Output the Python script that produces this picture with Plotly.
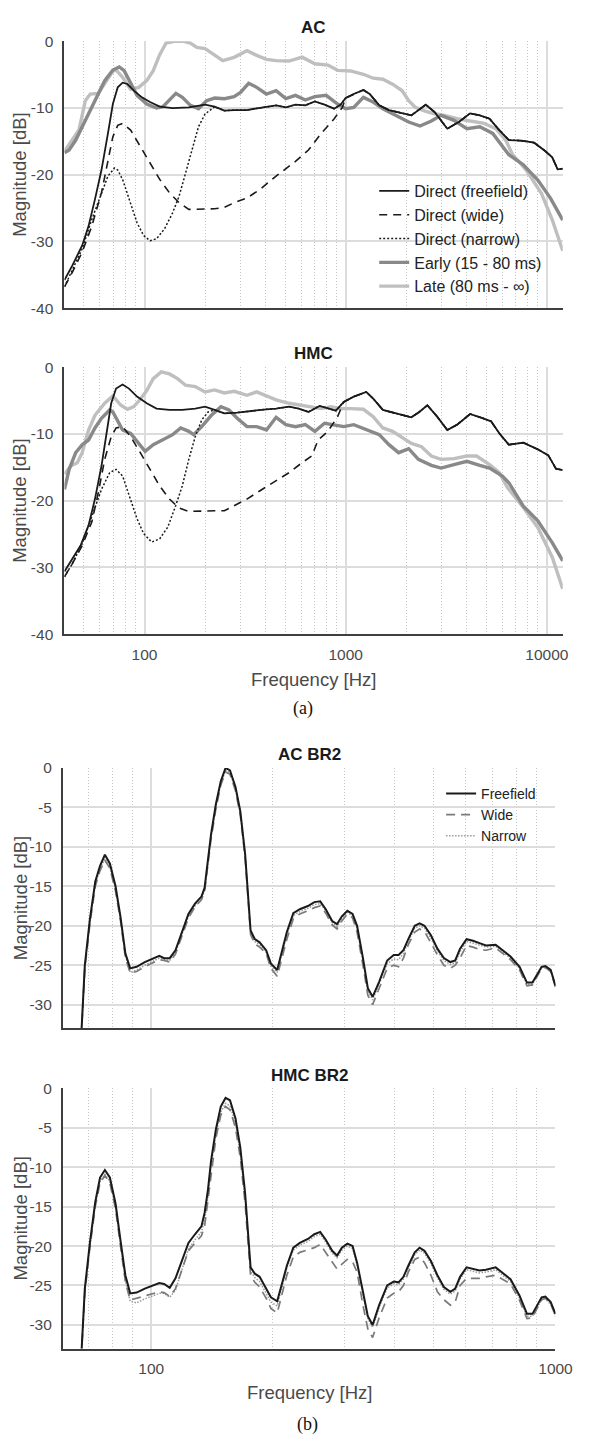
import math
import plotly.graph_objects as go

# ---------------- (a) broadband responses, AC ----------------
ac_ff_f = [40, 43.8, 49.0, 52.7, 56.7, 61.1, 65.8, 69.6, 73.6, 77.8,
           82.2, 88.5, 97.1, 106.5, 119, 138, 166, 200, 223, 249.5,
           279, 323, 389, 451, 504, 563, 630, 703, 785, 876,
           943, 1000, 1097, 1225, 1316, 1469, 1641, 1833, 2121, 2502,
           2768, 3200, 3650, 4156, 4643, 5190, 5800, 6474, 7480, 8650,
           9770, 10640, 11320, 12000]
ac_ff_db = [-35.8, -33.6, -30.6, -27.7, -23.7, -19.3, -13.8, -9.4, -6.9, -6.2,
            -6.4, -7.4, -8.4, -9.1, -9.8, -10.0, -9.9, -9.5, -9.8, -10.4,
            -10.3, -10.3, -9.9, -9.6, -9.9, -9.5, -9.6, -9.0, -9.5, -10.1,
            -9.5, -8.5, -7.9, -7.3, -7.9, -9.6, -10.3, -10.6, -11.1, -9.5,
            -10.6, -13.1, -12.1, -10.8, -11.1, -11.6, -13.3, -14.8, -14.9, -15.2,
            -16.4, -17.4, -19.2, -19.1]

ac_wide_f = [40, 43.8, 49.0, 54.7, 61.1, 65.8, 69.6, 73.6, 77.8, 85.3,
             95.3, 106.5, 119, 133, 148.6, 166, 192.5, 223, 249.5, 279,
             323, 375, 451, 563, 653, 756, 877, 963]
ac_wide_db = [-36.8, -34.6, -31.6, -27.7, -22.7, -17.8, -14.3, -12.6, -12.3, -13.3,
              -15.8, -18.3, -20.7, -22.7, -24.2, -25.2, -25.1, -25.1, -24.9, -24.2,
              -23.5, -22.2, -20.2, -18.0, -16.3, -13.8, -11.6, -9.9]

ac_narrow_f = [40, 43.8, 49.0, 54.7, 61.1, 65.8, 70.9, 73.6, 77.8, 85.3,
               91.8, 98.9, 106.5, 114.7, 125.8, 138, 148.6, 160, 172.4, 185.5,
               200, 215]
ac_narrow_db = [-36.8, -34.3, -31.1, -26.7, -22.7, -20.2, -19.0, -19.3, -20.7, -24.2,
                -27.2, -29.1, -29.9, -29.6, -28.1, -25.7, -23.2, -19.75, -16.3, -12.8,
                -10.9, -10.1]

ac_early_f = [40, 42.2, 45.5, 50.8, 56.8, 63.4, 69.6, 74.9, 79.2, 85.3,
              91.8, 102.6, 114.7, 123.5, 133.0, 143.2, 154.2, 169.1, 185.5, 203.5,
              223.3, 249.5, 278.7, 300.1, 329.2, 361.2, 403.6, 451, 504, 563,
              630, 703, 800, 912, 1000, 1097, 1225, 1370, 1531, 1775,
              2057, 2342, 2667, 2980, 3454, 4005, 4643, 5383, 6013, 6474,
              7640, 9020, 10420, 12000]
ac_early_db = [-16.7, -16.3, -14.8, -11.9, -8.9, -5.9, -4.3, -3.85, -4.4, -6.4,
               -8.1, -9.4, -10.0, -9.8, -8.8, -7.8, -8.4, -9.6, -10.1, -8.9,
               -8.5, -8.6, -8.3, -7.65, -6.3, -6.9, -7.9, -7.4, -8.6, -8.1,
               -8.8, -8.3, -8.1, -9.4, -10.1, -9.9, -8.4, -9.1, -10.1, -11.1,
               -12.1, -12.7, -11.95, -11.1, -11.85, -13.1, -12.8, -13.8, -15.8, -17.0,
               -18.5, -20.8, -23.5, -26.8]

ac_late_f = [40, 43.8, 47.2, 50.8, 53.7, 58.9, 63.4, 69.5, 72.2, 77.8,
             85.3, 93.6, 102.6, 110.5, 119, 128, 140.6, 157, 169, 182,
             200, 223, 245, 279, 323, 361, 404, 451, 523, 607,
             703, 816, 912, 1057, 1225, 1370, 1531, 1711, 1911, 2057,
             2217, 2477, 2768, 3093, 3583, 4156, 4818, 5589, 6243, 6730,
             7943, 9397, 10650, 12000]
ac_late_db = [-16.5, -14.8, -13.3, -8.9, -7.9, -7.8, -6.4, -4.5, -4.3, -5.4,
              -7.2, -6.9, -5.9, -4.4, -2.0, -0.25, 0.0, 0.0, -0.25, -0.9,
              -1.1, -2.1, -2.9, -2.4, -1.4, -2.1, -2.7, -2.9, -2.96, -2.37,
              -3.36, -3.56, -4.35, -4.44, -4.94, -5.53, -5.68, -6.42, -7.41, -8.89,
              -9.88, -10.47, -10.86, -11.1, -11.6, -11.95, -12.25, -13.1, -14.8, -16.9,
              -19.4, -22.8, -26.8, -31.4]

# ---------------- (a) broadband responses, HMC ----------------
hmc_ff_f = [40, 43.8, 48.1, 52.7, 56.7, 61.1, 64.6, 68.3, 72.2, 77.8,
            83.7, 91.8, 102.6, 114.7, 133, 154, 178.7, 200, 223, 249.5,
            289, 348, 404, 451, 523, 585, 653, 742, 816, 894,
            978, 1097, 1266, 1370, 1531, 1775, 2121, 2323, 2546, 2850,
            3200, 3583, 4156, 4818, 5283, 5800, 6474, 7640, 9020, 10170,
            11100, 12000]
hmc_ff_db = [-30.6, -28.6, -26.7, -23.7, -19.75, -14.8, -9.9, -5.4, -3.2, -2.6,
             -3.2, -4.4, -5.4, -6.2, -6.4, -6.4, -6.2, -5.9, -6.4, -6.9,
             -6.8, -6.5, -6.3, -6.2, -5.9, -6.2, -6.7, -5.8, -6.2, -6.5,
             -5.2, -4.4, -3.7, -4.7, -6.4, -6.9, -7.5, -6.7, -5.7, -7.4,
             -9.4, -8.6, -7.0, -7.65, -8.1, -9.9, -11.6, -11.3, -12.3, -13.2,
             -15.2, -15.4]

hmc_wide_f = [40, 43.8, 49.0, 54.7, 58.9, 63.4, 68.3, 72.2, 77.8, 85.3,
              95.3, 106.5, 119, 133, 148.6, 166, 192.5, 223, 249.5, 279,
              323, 375, 451, 523, 607, 678, 730, 816, 912]
hmc_wide_db = [-31.4, -29.4, -26.7, -23.2, -18.8, -13.8, -10.4, -9.1, -8.9, -10.4,
               -12.8, -15.3, -17.8, -19.75, -21.1, -21.6, -21.5, -21.5, -21.5, -20.7,
               -19.75, -18.5, -17.0, -15.8, -14.3, -13.3, -10.9, -9.6, -7.4]

hmc_narrow_f = [40, 43.8, 49.0, 54.7, 61.1, 67.1, 72.2, 77.8, 85.3, 91.8,
                98.9, 108.5, 119, 130.5, 143, 154, 166, 178.7, 192.5, 207]
hmc_narrow_db = [-31.4, -29.4, -26.4, -22.2, -18.3, -15.8, -15.3, -16.3, -19.75, -22.7,
                 -24.9, -26.2, -25.7, -23.95, -20.7, -17.8, -13.8, -10.4, -7.9, -6.7]

hmc_early_f = [40, 42.2, 45.5, 49.0, 52.7, 56.7, 61.1, 67.1, 69.6, 73.6,
               77.8, 85.3, 91.8, 100.7, 110.5, 123.5, 138, 151.4, 166, 175.5,
               192.5, 215, 240, 263, 289, 323, 361, 404, 451, 504,
               563, 630, 703, 785, 876, 978, 1097, 1266, 1469, 1641,
               1833, 2057, 2299, 2667, 2980, 3454, 4005, 4643, 5190, 6013,
               6474, 7640, 9020, 10650, 12000]
hmc_early_db = [-18.3, -15.3, -12.8, -11.6, -10.9, -9.1, -7.65, -6.4, -6.7, -8.1,
                -9.4, -9.9, -11.1, -12.6, -11.6, -10.9, -10.1, -9.1, -9.6, -10.1,
                -8.9, -7.2, -5.9, -6.4, -7.65, -8.9, -8.9, -9.4, -7.5, -8.6,
                -8.9, -8.6, -9.6, -8.4, -8.6, -8.9, -8.6, -9.4, -10.1, -11.6,
                -12.8, -12.2, -13.8, -14.7, -15.1, -14.6, -14.1, -14.7, -15.1, -16.3,
                -17.3, -20.8, -23.0, -26.3, -29.0]

hmc_late_f = [40, 43.0, 46.3, 49.0, 52.7, 56.7, 63.4, 69.6, 76.3, 82.2,
              88.5, 95.3, 102.6, 110.5, 121.2, 133, 145.9, 160, 178.7, 200,
              223, 249.5, 279, 323, 361, 404, 451, 523, 607, 678,
              757, 845, 943, 1057, 1225, 1370, 1531, 1711, 1911, 2121,
              2382, 2667, 2980, 3454, 4005, 4473, 5190, 5800, 6360, 7640,
              9020, 10650, 12000]
hmc_late_db = [-16.0, -14.8, -14.3, -12.8, -9.4, -7.2, -5.4, -4.3, -5.7, -6.3,
               -5.9, -4.8, -3.5, -1.7, -0.7, -1.0, -1.7, -2.7, -2.9, -3.7,
               -3.4, -3.85, -3.6, -4.2, -3.7, -4.3, -4.9, -5.4, -5.7, -5.9,
               -6.2, -5.9, -6.2, -6.2, -6.3, -7.4, -9.1, -9.6, -10.6, -11.4,
               -11.9, -13.3, -13.8, -13.7, -13.3, -13.3, -14.6, -15.8, -18.0, -21.0,
               -24.0, -28.5, -33.2]

# ---------------- (b) BR2 band, shared frequency grid ----------------
br2_f = [66.5, 68.5, 70.5, 72.7, 74.7, 76.8, 79.0, 81.6, 83.9, 86.3,
         88.7, 92.0, 96.4, 100.9, 104.7, 107.6, 111.1, 114.8, 119.1, 123.6,
         128.3, 133.1, 135.5, 138.1, 140.6, 144.5, 148.6, 152.7, 156.6, 161.6,
         166.1, 170.7, 176.1, 180.4, 185.4, 192.4, 197.7, 204.9, 216.5, 224.6,
         233.1, 244.1, 253.2, 261.8, 270.2, 280.3, 288.1, 296.2, 305.6, 314.8,
         323.0, 334.0, 343.4, 352.9, 366.2, 383.4, 398.0, 409.1, 420.6, 432.4,
         448.6, 461.2, 474.1, 491.9, 510.4, 529.6, 549.5, 564.9, 580.7, 602.5,
         625.1, 648.6, 673.0, 711.2, 774, 815, 850, 877, 924, 944,
         973, 1000]

ac_br2_ff = [-38, -25.0, -19.2, -14.4, -12.4, -11.0, -12.1, -15.0, -18.8, -23.5,
             -25.4, -25.2, -24.6, -24.1, -23.8, -24.1, -24.1, -23.1, -20.8, -18.5,
             -17.2, -16.3, -15.2, -11.7, -8.4, -4.6, -1.7, 0.0, -0.3, -2.4,
             -5.5, -10.9, -20.6, -21.7, -22.1, -23.1, -24.8, -25.6, -20.8, -18.4,
             -17.9, -17.5, -17.0, -16.9, -17.9, -19.4, -19.8, -18.8, -18.1, -18.5,
             -20.0, -24.1, -27.9, -29.0, -27.1, -24.4, -23.7, -23.7, -23.1, -21.7,
             -20.0, -19.7, -20.0, -21.2, -22.9, -24.1, -24.6, -24.4, -22.9, -21.7,
             -21.9, -22.2, -22.5, -22.4, -23.9, -25.2, -27.2, -27.2, -25.2, -25.1,
             -25.6, -27.6]
ac_br2_wide = [-38, -25.5, -19.8, -15.0, -13.0, -11.7, -12.7, -15.6, -19.3, -24.0,
               -26.0, -25.8, -25.2, -24.7, -24.3, -24.4, -24.6, -23.6, -21.3, -19.0,
               -17.6, -16.7, -15.7, -12.3, -9.0, -5.2, -2.2, -0.5, -0.8, -2.9,
               -6.0, -11.4, -21.1, -22.3, -22.7, -23.5, -25.4, -26.4, -21.7, -19.1,
               -18.5, -18.1, -17.7, -17.5, -18.4, -19.9, -20.4, -19.4, -18.5, -19.0,
               -20.8, -25.0, -28.8, -30.0, -27.9, -25.4, -25.0, -25.2, -24.1, -22.4,
               -20.8, -20.4, -20.7, -22.3, -23.7, -25.0, -25.4, -25.0, -24.1, -22.5,
               -22.7, -23.0, -23.1, -22.8, -24.3, -25.6, -27.6, -27.5, -25.4, -25.3,
               -25.8, -27.8]
ac_br2_narrow = [-38, -25.3, -19.5, -14.8, -12.8, -11.5, -12.5, -15.4, -19.1, -23.8,
                 -25.9, -25.6, -25.0, -24.5, -24.1, -24.3, -24.4, -23.4, -21.1, -18.8,
                 -17.5, -16.6, -15.5, -12.0, -8.7, -4.9, -2.0, -0.3, -0.6, -2.7,
                 -5.8, -11.2, -20.9, -22.0, -22.4, -23.3, -25.1, -25.9, -21.1, -18.7,
                 -18.2, -17.8, -17.3, -17.2, -18.1, -19.6, -20.1, -19.1, -18.3, -18.8,
                 -20.3, -24.4, -28.2, -29.4, -27.4, -24.8, -24.2, -24.3, -23.5, -22.0,
                 -20.3, -20.0, -20.3, -21.6, -23.2, -24.4, -24.9, -24.7, -23.3, -22.0,
                 -22.2, -22.5, -22.7, -22.6, -24.1, -25.4, -27.4, -27.4, -25.3, -25.2,
                 -25.7, -27.7]

hmc_br2_ff = [-38, -25.4, -19.6, -14.4, -11.3, -10.35, -11.3, -14.6, -19.2, -23.7,
              -26.0, -25.9, -25.4, -25.0, -24.7, -24.8, -25.3, -24.1, -21.9, -19.6,
              -18.5, -17.5, -15.8, -12.9, -9.2, -5.2, -2.3, -1.2, -1.5, -3.8,
              -7.5, -13.3, -22.7, -23.5, -23.9, -25.4, -26.5, -27.0, -22.5, -20.2,
              -19.6, -19.1, -18.5, -18.2, -19.2, -20.6, -21.2, -20.2, -19.7, -20.0,
              -22.1, -25.8, -28.9, -30.0, -27.5, -25.0, -24.5, -24.6, -23.9, -22.5,
              -20.8, -20.2, -20.6, -21.9, -23.7, -25.2, -25.8, -25.4, -23.9, -22.7,
              -22.9, -23.1, -23.0, -22.7, -24.2, -26.3, -28.6, -28.6, -26.5, -26.4,
              -27.1, -28.6]
hmc_br2_wide = [-38, -26.0, -20.2, -15.0, -12.0, -11.05, -12.0, -15.3, -19.9, -24.5,
                -26.85, -26.6, -26.3, -26.0, -25.8, -25.9, -26.4, -25.4, -23.1, -20.6,
                -19.6, -18.7, -17.5, -14.2, -10.4, -6.3, -3.4, -2.3, -2.7, -5.0,
                -8.8, -14.6, -23.7, -24.6, -25.2, -26.6, -27.9, -28.5, -23.7, -21.4,
                -20.8, -20.5, -20.2, -19.8, -20.8, -22.0, -22.9, -22.3, -21.7, -22.0,
                -23.3, -27.5, -30.5, -31.6, -29.1, -26.6, -26.0, -25.8, -25.0, -23.3,
                -21.7, -21.4, -22.1, -23.7, -25.8, -26.8, -27.5, -27.1, -25.0, -24.1,
                -24.1, -24.1, -23.9, -23.7, -24.8, -26.9, -29.2, -29.1, -26.8, -26.6,
                -27.3, -28.8]
hmc_br2_narrow = [-38, -25.8, -20.0, -14.8, -11.8, -10.9, -11.8, -15.0, -19.6, -24.4,
                  -27.0, -27.2, -26.7, -26.3, -26.0, -26.0, -26.5, -25.6, -23.0, -20.4,
                  -19.2, -18.2, -16.8, -13.8, -9.9, -5.8, -3.0, -1.9, -2.2, -4.4,
                  -8.2, -14.0, -23.2, -24.0, -24.5, -25.9, -27.1, -27.6, -22.8, -20.5,
                  -19.9, -19.4, -18.8, -18.5, -19.5, -20.9, -21.5, -20.5, -20.0, -20.3,
                  -22.4, -26.1, -29.2, -30.3, -27.8, -25.3, -24.8, -24.9, -24.2, -22.8,
                  -21.1, -20.5, -20.9, -22.2, -24.0, -25.5, -26.1, -25.7, -24.2, -23.0,
                  -23.2, -23.4, -23.3, -23.0, -24.5, -26.6, -28.9, -28.9, -26.8, -26.7,
                  -27.4, -28.9]

# tick labels
ya_vals = [-40, -30, -20, -10, 0]
ya_text = ["-40", "-30", "-20", "-10", "0"]
yb_vals = [-30, -25, -20, -15, -10, -5, 0]
yb_text = ["-30", "-25", "-20", "-15", "-10", "-5", "0"]
xa_vals = [100, 1000, 10000]
xa_text = ["100", "1000", "10000"]
xb_vals = [100, 1000]
xb_text = ["100", "1000"]


def with_tail(f_a, v_a, f_b, v_b):
    """Direct curves that merge into the free-field response continue along it."""
    last = f_a[-1]
    tail = [(f, v) for f, v in zip(f_b, v_b) if f > last]
    return f_a + [t[0] for t in tail], v_a + [t[1] for t in tail]


W, H = 589, 1444
def px(x):
    return x / W
def py(y):
    return 1 - y / H

FONT = "Liberation Sans, Arial, Helvetica, sans-serif"
SERIF = "Liberation Serif, Times New Roman, serif"
AXC = "#3f3f3f"
GRID = "#dcdcdc"
MINOR = "#c6c6c6"
TICKC = "#4a4a4a"
C_FF = "#1a1a1a"
C_EARLY = "#898989"
C_LATE = "#bfbfbf"

# plot areas in pixels: left, right, top, bottom
P1 = (66.5, 580.5, 32.7, 302.7)
P2 = (66.5, 580.5, 362.5, 632.7)
P3 = (65.0, 573.0, 768.0, 1031.5)
P4 = (65.0, 573.0, 1092.3, 1355.5)

fig = go.Figure()


def add(ax, f, v, name, color, width, dash, legend=None, rank=None):
    fig.add_trace(go.Scatter(
        x=f, y=v, mode="lines", name=name,
        line=dict(color=color, width=width, dash=dash),
        xaxis="x" + ax, yaxis="y" + ax,
        showlegend=legend is not None,
        legend=legend if legend else "legend",
        legendrank=rank if rank else 1000,
        hoverinfo="skip"))


# panels (a): drawn back to front
for ax, d, show in (("", dict(ff=(ac_ff_f, ac_ff_db), wide=(ac_wide_f, ac_wide_db),
                               narrow=(ac_narrow_f, ac_narrow_db), early=(ac_early_f, ac_early_db),
                               late=(ac_late_f, ac_late_db)), True),
                    ("2", dict(ff=(hmc_ff_f, hmc_ff_db), wide=(hmc_wide_f, hmc_wide_db),
                               narrow=(hmc_narrow_f, hmc_narrow_db), early=(hmc_early_f, hmc_early_db),
                               late=(hmc_late_f, hmc_late_db)), False)):
    lg = "legend" if show else None
    ff_f, ff_v = d["ff"]
    add(ax, *d["late"], "Late (80 ms - ∞)", C_LATE, 3.4, "solid", lg, 5)
    add(ax, *d["early"], "Early (15 - 80 ms)", C_EARLY, 3.4, "solid", lg, 4)
    add(ax, *with_tail(*d["narrow"], ff_f, ff_v), "Direct (narrow)", C_FF, 1.5, "2px,2px", lg, 3)
    add(ax, *with_tail(*d["wide"], ff_f, ff_v), "Direct (wide)", C_FF, 1.6, "8px,6px", lg, 2)
    add(ax, ff_f, ff_v, "Direct (freefield)", C_FF, 1.8, "solid", lg, 1)

# panels (b)
for ax, ff, wide, narrow, show in (("3", ac_br2_ff, ac_br2_wide, ac_br2_narrow, True),
                                   ("4", hmc_br2_ff, hmc_br2_wide, hmc_br2_narrow, False)):
    lg = "legend2" if show else None
    add(ax, br2_f, narrow, "Narrow", "#9a9a9a", 1.5, "1.5px,1.5px", lg, 3)
    add(ax, br2_f, wide, "Wide", "#7a7a7a", 1.7, "9px,6px", lg, 2)
    add(ax, br2_f, ff, "Freefield", C_FF, 2.0, "solid", lg, 1)

minor_vals = [m * 10 ** e for e in (1, 2, 3) for m in range(2, 10)]


def xaxis(p, lo, hi, vals, text, labels, anchor):
    return dict(type="log", range=[lo, hi], domain=[px(p[0]), px(p[1])], anchor=anchor,
                tickmode="array", tickvals=vals, ticktext=text, showticklabels=labels,
                ticks="", showline=True, linecolor=AXC, linewidth=2.2, mirror=False,
                showgrid=True, gridcolor=GRID, gridwidth=1.6, zeroline=False,
                tickfont=dict(family=FONT, size=15.5, color=TICKC), ticklabelstandoff=5,
                minor=dict(tickmode="array", tickvals=minor_vals, showgrid=True,
                           gridcolor=MINOR, griddash="1px,2px", gridwidth=1, ticks=""))


def yaxis(p, rng, vals, text, anchor):
    return dict(range=rng, domain=[py(p[3]), py(p[2])], anchor=anchor,
                tickmode="array", tickvals=vals, ticktext=text, ticks="",
                showline=True, linecolor=AXC, linewidth=2.2, mirror=False,
                showgrid=True, gridcolor=GRID, gridwidth=1.6, zeroline=False,
                tickfont=dict(family=FONT, size=15.5, color=TICKC), ticklabelstandoff=6)


la, ha = math.log10(40), math.log10(12000)
lb, hb = math.log10(60.5), 3.0

layout = dict(
    width=W, height=H, margin=dict(l=0, r=0, t=0, b=0),
    paper_bgcolor="white", plot_bgcolor="white",
    font=dict(family=FONT, color="#222"),
    xaxis=xaxis(P1, la, ha, xa_vals, xa_text, False, "y"),
    yaxis=yaxis(P1, [-40, 0], ya_vals, ya_text, "x"),
    xaxis2=xaxis(P2, la, ha, xa_vals, xa_text, True, "y2"),
    yaxis2=yaxis(P2, [-40, 0], ya_vals, ya_text, "x2"),
    xaxis3=xaxis(P3, lb, hb, xb_vals, xb_text, False, "y3"),
    yaxis3=yaxis(P3, [-33, 0], yb_vals, yb_text, "x3"),
    xaxis4=xaxis(P4, lb, hb, xb_vals, xb_text, True, "y4"),
    yaxis4=yaxis(P4, [-33, 0], yb_vals, yb_text, "x4"),
    legend=dict(x=px(386), y=py(167), xanchor="left", yanchor="top",
                bgcolor="rgba(0,0,0,0)", borderwidth=0,
                font=dict(family=FONT, size=16, color="#222")),
    legend2=dict(x=px(455), y=py(778), xanchor="left", yanchor="top",
                 bgcolor="rgba(0,0,0,0)", borderwidth=0,
                 font=dict(family=FONT, size=14, color="#222")),
    showlegend=True,
)
fig.update_layout(**layout)

ann = []
def text(x, y, s, size, family=FONT, color="#222", angle=0):
    ann.append(dict(x=px(x), y=py(y), xref="paper", yref="paper", text=s, showarrow=False,
                    xanchor="center", yanchor="middle", textangle=angle,
                    font=dict(family=family, size=size, color=color)))

for p, title in ((P1, "<b>AC</b>"), (P2, "<b>HMC</b>"), (P3, "<b>AC BR2</b>"), (P4, "<b>HMC BR2</b>")):
    cx = (p[0] + p[1]) / 2
    text(cx, p[2] - 13.5, title, 17, color="#1a1a1a")
    text(20.7, (p[2] + p[3]) / 2, "Magnitude [dB]", 18.5, color=TICKC, angle=-90)
text((P2[0] + P2[1]) / 2, 678.3, "Frequency [Hz]", 18.5, color=TICKC)
text((P4[0] + P4[1]) / 2, 1400, "Frequency [Hz]", 18.5, color=TICKC)
text(313, 708.3, "(a)", 18, family=SERIF, color="#111")
text(317, 1432, "(b)", 18, family=SERIF, color="#111")
fig.update_layout(annotations=ann)

fig.write_html("out.html")
